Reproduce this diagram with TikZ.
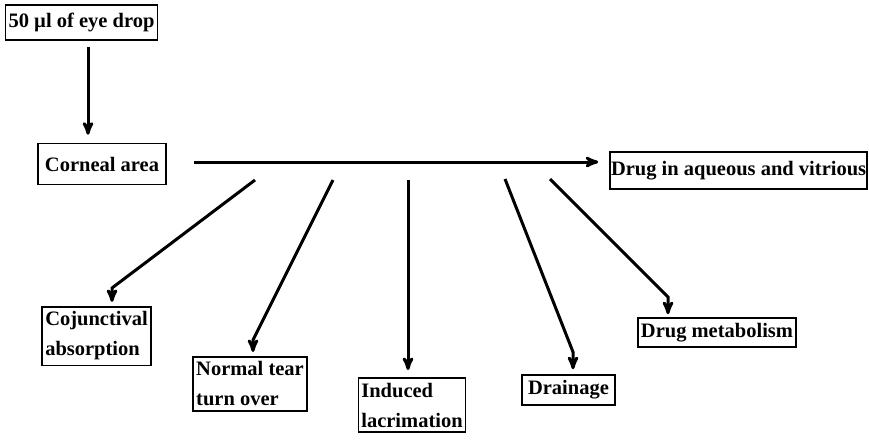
\documentclass[tikz,border=0pt]{standalone}
\usepackage{fontspec}
\setmainfont{Liberation Serif}
\usepackage{tikz}
\usetikzlibrary{positioning}
\usetikzlibrary{arrows}

\begin{document}
\begin{tikzpicture}[x=1pt,y=-1pt,>=stealth',line width=3pt,
	box/.style={draw,line width=1.6pt,inner sep=3pt,inner ysep=5pt,align=left,
		font=\fontsize{20.5}{30}\selectfont\bfseries}]
	\useasboundingbox (0,0) rectangle (869,442);
	
	\node[box,minimum height=35pt] (drop) at (81.5,22.5) {50 µl of eye drop};
	\node[box,minimum height=41pt,inner xsep=7pt] (cornea) at (102,164) {Corneal area};
	\node[box,minimum height=37pt,inner xsep=1pt,anchor=east] (aqueous) at (868,170.5) {Drug in aqueous and vitrious};
	\node[box] (cojunct) at (96.5,336) {Cojunctival\\absorption};
	\node[box] (tear) at (250,384) {Normal tear\\turn over};
	\node[box,anchor=north] (lacrim) at (412,377) {Induced\\lacrimation};
	\node[box,minimum height=30pt,inner xsep=6pt] (drain) at (568.5,390) {Drainage};
	\node[box,minimum height=29pt] (metab) at (717,332.5) {Drug metabolism};
	
	% free ends below the main line
	\coordinate (v) at (88,47);
	\coordinate (h) at (194,162);
	\coordinate (s1) at (255,180);
	\coordinate (s2) at (333,180);
	\coordinate (s3) at (408,180);
	\coordinate (s4) at (505,179);
	\coordinate (s5) at (550,179);
	\coordinate (k1) at (112,288);
	\coordinate (k2) at (253,340);
	\coordinate (k4) at (573,352);
	\coordinate (k5) at (668,297);
	
	\draw[->,shorten >=8pt] (v) -- (v |- cornea.north);
	\draw[->,shorten >=11pt] (h) -- (h -| aqueous.west);
	\draw[->,shorten >=4pt] (s1) -- (k1) -- (k1 |- cojunct.north);
	\draw[->,shorten >=4pt] (s2) -- (k2) -- (k2 |- tear.north);
	\draw[->,shorten >=7pt] (s3) -- (s3 |- lacrim.north);
	\draw[->,shorten >=5pt] (s4) -- (k4) -- (k4 |- drain.north);
	\draw[->,shorten >=3pt] (s5) -- (k5) -- (k5 |- metab.north);
\end{tikzpicture}
\end{document}
